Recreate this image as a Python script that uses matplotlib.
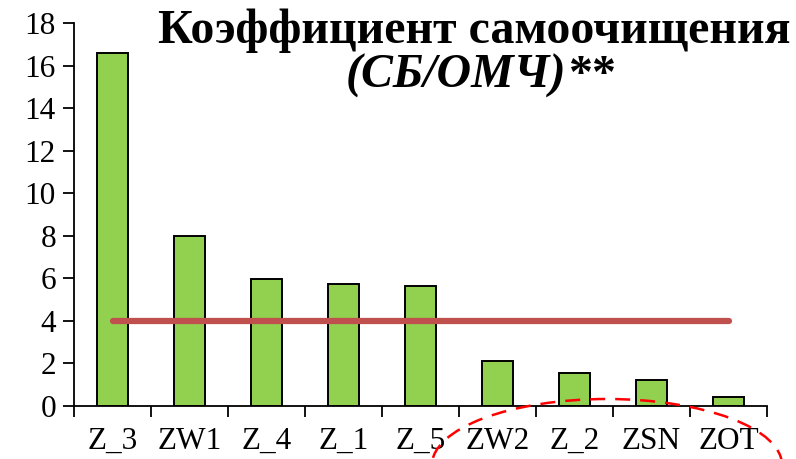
import matplotlib.pyplot as plt
from matplotlib.patches import Ellipse

# 데이터
stations = ['Z_3', 'ZW1', 'Z_4', 'Z_1', 'Z_5', 'ZW2', 'Z_2', 'ZSN', 'ZOT']
ratio = [16.6, 8.0, 5.95, 5.75, 5.65, 2.1, 1.55, 1.2, 0.4]
norm_level = [4, 4, 4, 4, 4, 4, 4, 4, 4]
y_ticks = [0, 2, 4, 6, 8, 10, 12, 14, 16, 18]

plt.rcParams['font.family'] = ['Liberation Serif', 'DejaVu Serif']

fig = plt.figure(figsize=(7.96, 4.59), dpi=100)
ax = fig.add_axes([74 / 796, 1 - 406 / 459, 693 / 796, 383 / 459])

x = list(range(len(stations)))
ax.bar(x, ratio, width=0.4, color='#92d050', edgecolor='black', linewidth=1.4, zorder=2)
ax.plot(x, norm_level, color='#c0504d', linewidth=4.5, solid_capstyle='round', zorder=3)

ax.set_xlim(-0.5, len(stations) - 0.5)
ax.set_ylim(0, 18)
ax.set_yticks(y_ticks)
ax.set_xticks(x)
ax.set_xticklabels(stations)
ax.set_xticks([i - 0.5 for i in range(len(stations) + 1)], minor=True)
ax.tick_params(axis='x', which='major', length=0, pad=15, labelsize=22.5)
ax.tick_params(axis='x', which='minor', length=8, width=1.3, direction='out')
ax.tick_params(axis='y', length=8, width=1.3, direction='out', labelsize=22.5, pad=5)

for side in ['top', 'right']:
    ax.spines[side].set_visible(False)
for side in ['left', 'bottom']:
    ax.spines[side].set_linewidth(1.3)

# 제목 (두 줄)
fig.text(791 / 796, 1 - 31 / 459, 'Коэффициент самоочищения', ha='right', va='center',
         fontsize=34.5, fontweight='bold')
fig.text(566 / 796, 1 - 76 / 459, '(СБ/ОМЧ)', ha='right', va='center',
         fontsize=34.5, fontweight='bold', fontstyle='italic')
fig.text(568 / 796, 1 - 76 / 459, '**', ha='left', va='center',
         fontsize=34.5, fontweight='bold')

# 빨간 점선 타원
ell = Ellipse((607 / 796, 1 - 465 / 459), 350 / 796, 132 / 459,
              transform=fig.transFigure, fill=False, edgecolor='#ff0000',
              linewidth=1.8, linestyle=(0, (6, 4)), clip_on=False)
fig.add_artist(ell)

fig.savefig('out.png', dpi=100)
